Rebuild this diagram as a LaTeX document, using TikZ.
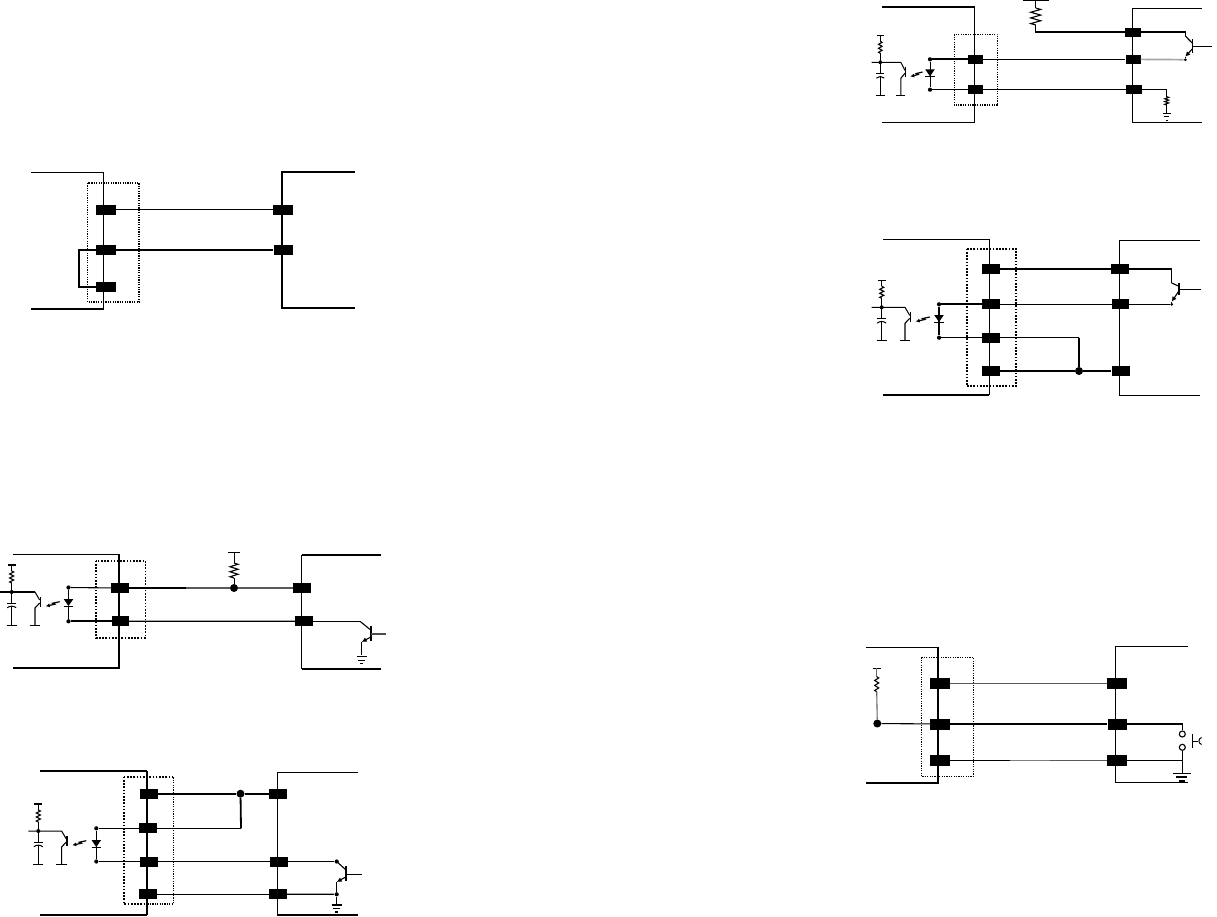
\documentclass[tikz,border=0pt]{standalone}
\usetikzlibrary{arrows.meta}
\tikzset{
  wire/.style={line width=1.1pt,black},
  wirethick/.style={line width=1.8pt,black},
  wiregray/.style={line width=1.7pt,black!65},
  wirepale/.style={line width=1.7pt,black!35},
  boxline/.style={line width=1.1pt,black},
  boxthick/.style={line width=1.8pt,black},
  dotbox/.style={line width=1.1pt,black,dash pattern=on 1.2pt off 1.2pt},
  dotboxthick/.style={line width=1.7pt,black,dash pattern=on 1.7pt off 1.5pt},
  pinbox/.style={fill=black,draw=none,rectangle,inner sep=0pt,minimum width=#1,minimum height=10pt},
  pinbox/.default=18pt,
  smalldot/.style={circle,fill=black,inner sep=0pt,minimum size=4.2pt},
  bigdot/.style={circle,fill=black,inner sep=0pt,minimum size=8pt},
  thin part/.style={line width=1pt}
}
% vertical resistor: x, y1, y2, amplitude
\newcommand{\resv}[4]{%
  \pgfmathsetmacro{\hh}{(#3-#2)/6}%
  \pgfmathsetmacro{\hq}{\hh/2}%
  \draw[line width=1.1pt] (#1,#2) -- ++(#4,\hq) -- ++(-2*#4,\hh) -- ++(2*#4,\hh) -- ++(-2*#4,\hh) -- ++(2*#4,\hh) -- ++(-2*#4,\hh) -- (#1,#3);}
% ground: x, y, half width
\newcommand{\gnd}[3]{%
  \draw[line width=1.3pt] ({#1-#3},#2) -- ({#1+#3},#2);
  \draw[line width=1.3pt] ({#1-0.65*#3},{#2+3.5}) -- ({#1+0.65*#3},{#2+3.5});
  \draw[line width=1.1pt] ({#1-0.3*#3},{#2+7}) -- ({#1+0.3*#3},{#2+7});}
% source and phototransistor around a junction: x, y, horizontal scale
\newcommand{\opto}[3]{%
  \begin{scope}[shift={(#1,#2)},xscale=#3]
    \draw[line width=1.3pt] (-4,-27) -- (4,-27);
    \draw[thin part] (0,-27) -- (0,-21);
    \resv{0}{-21}{-9}{2}
    \draw[thin part] (0,-9) -- (0,11.5);
    \draw[thin part] (-10,0) -- (23.3,0) -- (28,8);
    \fill (0,0) circle (2);
    \draw[thin part] (-4.5,11.5) -- (4.5,11.5);
    \draw[thin part] (-4.5,15.8) .. controls (-2,13.6) and (2,13.6) .. (4.5,15.8);
    \draw[thin part] (0,14.2) -- (0,33.5);
    \draw[line width=1.3pt] (-5,33.5) -- (5,33.5);
    \draw[line width=1.4pt] (28.5,5) -- (28.5,15);
    \draw[line width=1.1pt] (28,11) -- (23.3,16) -- (23.3,33.5);
    \draw[line width=1.3pt] (18,33.5) -- (28.5,33.5);
    \draw[line width=1.2pt,-{Latex[length=4pt,width=4pt]}] (48,9.7) -- (41,11.2) -- (43,12.2) -- (34,14.2);
  \end{scope}}
% diode: x, y of triangle top
\newcommand{\diodeat}[2]{%
  \fill ({#1-4.8},#2) -- ({#1+4.8},#2) -- (#1,{#2+7}) -- cycle;
  \draw[thin part] ({#1-4.8},{#2+7.3}) -- ({#1+4.8},{#2+7.3});}
% NPN: barx, bary1, bary2, cx, cy, ex, ey
\newcommand{\npn}[7]{%
  \draw[line width=1.6pt] (#1,#2) -- (#1,#3);
  \draw[line width=1.1pt] (#4,#5) -- ({#1-0.3},{#2+1.5+(#3-#2)*0.15});
  \draw[line width=1.1pt,-{Latex[length=5pt,width=5pt]}] ({#1-0.3},{#3-1.5-(#3-#2)*0.15}) -- (#6,#7);}
\begin{document}
\begin{tikzpicture}[x=1pt,y=-1pt]
\useasboundingbox (0,0) rectangle (1217,916);
\fill[white] (0,0) rectangle (1217,916);

% ===== Diagram A, top left =====
\draw[boxline] (31,172.7) -- (103.5,172.7) -- (103.5,309) -- (31,309);
\draw[boxthick] (355,171.7) -- (282,171.7) -- (282,307.7) -- (355,307.7);
\draw[dotbox] (87.5,183) rectangle (139,302);
\node[pinbox=20pt] (a1) at (106,209.5) {};
\node[pinbox=20pt] (a2) at (106,250) {};
\node[pinbox=20pt] (a3) at (106,287) {};
\node[pinbox=20pt] (a4) at (283,209.5) {};
\node[pinbox=19pt] (a5) at (283,250) {};
\draw[wire] (a1) -- (a4);
\draw[wire] (a2) -- (a5);
\draw[wirethick] (a2.west) -- (79.3,250) -- (79.3,287) -- (a3.west);

% ===== Diagram B, lower left =====
\draw[boxline] (13,554.3) -- (119,554.3);
\draw[boxthick] (119,554.3) -- (119,668) -- (60,668);
\draw[boxline] (13,668) -- (60,668);
\draw[boxthick] (381,554.7) -- (301.5,554.7);
\draw[boxline] (301.5,554.7) -- (301.5,668.7);
\draw[boxthick] (301.5,668.7) -- (381,668.7);
\draw[dotboxthick] (96,560.7) rectangle (145.5,637.7);
\opto{11.7}{592}{1}
\draw[wirethick] (0,592) -- (35,592);
\node[pinbox] (b1) at (120,588) {};
\node[pinbox=17pt] (b2) at (120.5,621.3) {};
\node[pinbox] (b3) at (302,588) {};
\node[pinbox] (b4) at (304,621.3) {};
\node[smalldot] (bd1) at (68.5,587.5) {};
\node[smalldot] (bd2) at (68.5,621.3) {};
\node[bigdot] (bd3) at (234,588) {};
\draw[thin part] (bd1) -- (68.5,599);
\draw[wire] (bd1) -- (b1);
\draw[thin part] (68.5,606) -- (bd2);
\draw[wirethick] (bd2) -- (b2);
\diodeat{68.5}{599}
\draw[wire] (b1) -- (bd3);
\draw[wiregray] (186,588) -- (bd3);
\draw[wiregray] (bd3) -- (b3);
\draw[wirepale] (b2) -- (b4);
\draw[wire] (b2) -- (b4);
\draw[line width=1.3pt] (228,552.3) -- (240,552.3);
\draw[thin part] (234,552.3) -- (234,563);
\resv{234}{563}{578}{4}
\draw[thin part] (234,578) -- (bd3);
\coordinate (b5) at (360,621.3);
\draw[wire] (b4) -- (b5);
\npn{370.7}{626}{641}{360}{621.3}{361.7}{642}
\draw[thin part] (361.7,642) -- (361.7,655);
\draw[line width=1.2pt,black!70] (370.7,634) -- (386,634);
\gnd{361.7}{656.7}{5}

% ===== Diagram C, bottom left =====
\draw[boxline] (40,771) -- (147,771);
\draw[boxthick] (147,771) -- (147,915);
\draw[boxline] (40,915) -- (147,915);
\draw[boxline] (357.7,772.3) -- (277.3,772.3) -- (277.3,915) -- (357.7,915);
\draw[dotboxthick] (123.7,776.7) -- (173.3,776.7);
\draw[dotboxthick] (123.7,776.7) -- (123.7,904) -- (150,904);
\draw[dotbox] (150,904) -- (173.3,904) -- (173.3,776.7);
\opto{38.3}{831}{1}
\node[pinbox] (c1) at (148.5,793.7) {};
\node[pinbox] (c2) at (148,828.3) {};
\node[pinbox] (c3) at (149,861.5) {};
\node[pinbox] (c4) at (148,894.3) {};
\node[pinbox] (c5) at (278,793.7) {};
\node[pinbox] (c6) at (279,861.5) {};
\node[pinbox] (c7) at (278,894.3) {};
\node[smalldot] (cd1) at (96.3,828.3) {};
\node[smalldot] (cd2) at (96.3,861.5) {};
\node[bigdot] (cd3) at (240.5,793.7) {};
\node[smalldot] (cd4) at (336.7,861.5) {};
\node[smalldot] (cd5) at (336.7,894.3) {};
\draw[wirethick] (c1) -- (cd3);
\draw[wirethick] (cd3) -- (c5);
\draw[wire] (c2) -- (241,828.3);
\draw[wirethick] (241,828.3) -- (cd3);
\draw[wire] (cd1) -- (c2);
\draw[wire] (cd2) -- (c3);
\draw[wire] (c3) -- (c6);
\draw[wire] (c6) -- (cd4);
\draw[wire] (c4) -- (c7);
\draw[wirepale] (c7) -- (cd5);
\draw[wire] (c7) -- (cd5);
\draw[thin part] (cd1) -- (cd2);
\diodeat{96.3}{840}
\npn{346}{866}{880.7}{336.7}{861.5}{336.7}{882}
\draw[line width=1.3pt] (336.7,882) -- (cd5);
\draw[thin part] (cd5) -- (336.7,905);
\draw[thin part] (346,874) -- (361.7,874);
\gnd{336.7}{905}{5}

% ===== Diagram D, top right =====
\draw[boxline] (881.7,7) -- (974.7,7) -- (974.7,122.3) -- (881.7,122.3);
\draw[boxline] (1201.7,8.3) -- (1132.3,8.3) -- (1132.3,122.3) -- (1201.7,122.3);
\draw[dotbox] (954.3,34.3) rectangle (997.7,105);
\opto{880.3}{62.3}{0.88}
\node[pinbox=15pt,minimum height=9pt] (d1) at (975.7,59.3) {};
\node[pinbox=15pt,minimum height=9pt] (d2) at (975.7,89.7) {};
\node[pinbox=16pt,minimum height=9pt] (d3) at (1133,32) {};
\node[pinbox=15pt,minimum height=9pt] (d4) at (1133,59.3) {};
\node[pinbox=16pt,minimum height=9pt] (d5) at (1134,89.7) {};
\node[smalldot] (dd1) at (930,59.3) {};
\node[smalldot] (dd2) at (930,89.7) {};
\node[smalldot,minimum size=3pt] (dd3) at (1185.3,59.7) {};
\draw[wirethick] (dd1) -- (d1);
\draw[wire] (dd2) -- (d2);
\draw[thin part] (dd1) -- (dd2);
\diodeat{930}{69.3}
\draw[wire] (d1) -- (d4);
\draw[wire] (d2) -- (d5);
\draw[wirepale] (d4) -- (dd3);
\draw[wire] (d3.east) -- (1185.3,32) -- (1185.3,36);
\npn{1192.3}{39.3}{52.7}{1185.3}{36}{1185.3}{56.7}
\draw[thin part] (1185.3,56.7) -- (dd3);
\draw[thin part] (1192.3,46.7) -- (1211.7,46.7);
\draw[line width=1.4pt] (1023,0.5) -- (1049,0.5);
\draw[thin part] (1035.7,0) -- (1035.7,8);
\resv{1035.7}{8}{25}{5}
\draw[wire] (1035.7,25) -- (1035.7,32) -- (d3.west);
\draw[wire] (d5.east) -- (1166.7,89.7) -- (1166.7,96.7);
\resv{1166.7}{96.7}{105}{2}
\draw[thin part] (1166.7,105) -- (1166.7,113.3);
\gnd{1166.7}{113.3}{4}

% ===== Diagram E, right middle =====
\draw[boxline] (883.3,239.3) -- (989.3,239.3) -- (989.3,395);
\draw[boxthick] (883.3,395) -- (989.3,395);
\draw[boxline] (1200,240.3) -- (1119.3,240.3) -- (1119.3,395.3) -- (1200,395.3);
\draw[dotboxthick] (966.7,248.7) rectangle (1016,386);
\opto{881.7}{307.3}{1}
\node[pinbox] (e1) at (991,269) {};
\node[pinbox] (e2) at (991,304.3) {};
\node[pinbox] (e3) at (991,337.7) {};
\node[pinbox] (e4) at (991,371) {};
\node[pinbox] (e5) at (1120,269) {};
\node[pinbox=17pt] (e6) at (1120.5,304.3) {};
\node[pinbox] (e7) at (1120.5,371) {};
\node[smalldot] (ed1) at (939,304.3) {};
\node[smalldot] (ed2) at (939,337.7) {};
\node[bigdot] (ed3) at (1079,371) {};
\node[smalldot,minimum size=3pt] (ed4) at (1171.7,304.3) {};
\draw[wirethick] (ed1) -- (e2);
\draw[wire] (ed2) -- (e3);
\draw[wirethick] (ed1) -- (ed2);
\diodeat{939}{315}
\draw[wire] (e1) -- (e5);
\draw[wire] (e2) -- (e6);
\draw[wire] (e6) -- (ed4);
\draw[wire] (e4) -- (ed3);
\draw[wire] (ed3) -- (e7);
\draw[wire] (e3.east) -- (1079,337.7);
\draw[wirethick] (1079,337.7) -- (ed3);
\draw[wire] (e5.east) -- (1171.7,269) -- (1171.7,283);
\npn{1178.7}{282.7}{295}{1171.7}{283}{1171.7}{301.7}
\draw[thin part] (1171.7,301.7) -- (ed4);
\draw[thin part] (1178.7,289) -- (1200.7,289);

% ===== Diagram F, right lower =====
\draw[boxline] (866,647.3) -- (938,647.3);
\draw[boxthick] (938,647.3) -- (938,782.7) -- (866,782.7);
\draw[boxline] (1188,646.3) -- (1115.3,646.3) -- (1115.3,782.3) -- (1188,782.3);
\draw[dotbox] (921.3,657.3) rectangle (973.3,776.3);
\node[pinbox=20pt,minimum height=11pt] (f1) at (940,683.5) {};
\node[pinbox=20pt,minimum height=11pt] (f2) at (940,724) {};
\node[pinbox=20pt,minimum height=11pt] (f3) at (940,760.5) {};
\node[pinbox=20pt,minimum height=11pt] (f4) at (1117,683.5) {};
\node[pinbox=19pt,minimum height=11pt] (f5) at (1117,724) {};
\node[pinbox=20pt,minimum height=11pt] (f6) at (1117,760.5) {};
\node[bigdot] (fd1) at (877.3,723.5) {};
\node[circle,draw,line width=1.1pt,inner sep=0pt,minimum size=6pt] (fs1) at (1182.3,734) {};
\node[circle,draw,line width=1.1pt,inner sep=0pt,minimum size=6pt] (fs2) at (1182.3,747.3) {};
\draw[wiregray] (f1) -- (f4);
\draw[wirepale] (f2) -- (f5);
\draw[wire] (f2) -- (f5);
\draw[wire] (f3) -- (1010,760.5);
\draw[wiregray] (1050,760.5) -- (f6);
\draw[line width=1.4pt,black!50] (1010,760.5) -- (1050,760.5);
\draw[wire] (fd1) -- (f2);
\draw[thin part] (872.7,668) -- (880.7,668);
\draw[line width=1.1pt,black!60] (876.7,668) -- (876.7,676.7);
\resv{876.7}{676.7}{691.7}{2}
\draw[line width=1.1pt,black!60] (876.7,691.7) -- (fd1);
\draw[wire] (f5.east) -- (1182.3,724) -- (fs1);
\draw[wire] (f6.east) -- (1182.3,760.5);
\draw[wire] (fs2) -- (1182.3,773.3);
\draw[line width=1.3pt] (1173,773.3) -- (1190.5,773.3);
\draw[line width=1.3pt] (1176,777) -- (1187,777);
\draw[line width=1.1pt] (1179,781) -- (1184.5,781);
\draw[thin part] (1192.7,734) -- (1192.7,748);
\draw[thin part] (1192.7,741) -- (1198,741);
\draw[thin part] (1201.5,737.5) .. controls (1198,739) and (1198,743) .. (1201.5,744.5);
\end{tikzpicture}
\end{document}
